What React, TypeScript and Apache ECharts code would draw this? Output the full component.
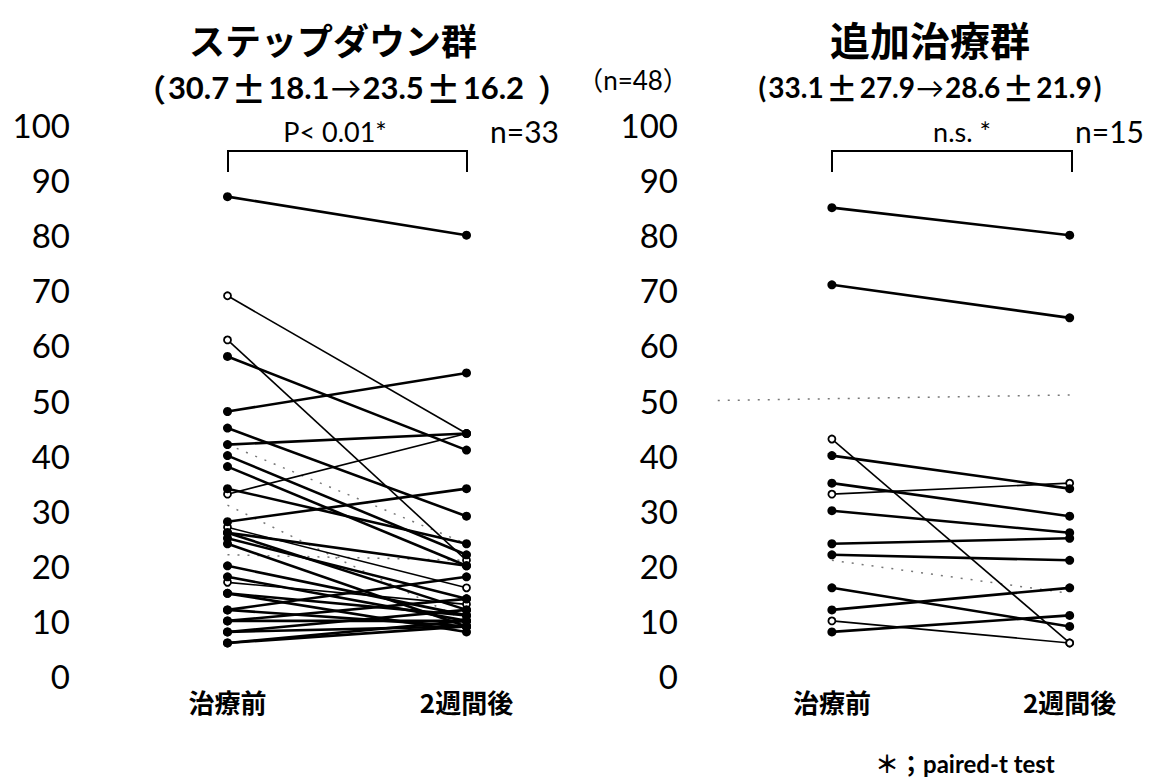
import React, { useEffect, useRef } from "react";
import * as echarts from "echarts";

// ---- data ----
const CATEGORIES = ["治療前", "2週間後"];
const Y_TICKS = [0, 10, 20, 30, 40, 50, 60, 70, 80, 90, 100];

// Step-down group (n=33)
const LEFT_BEFORE = [87, 69, 61, 58, 48, 45, 42, 40, 38, 34, 33, 28, 27, 26, 26, 25, 24, 20, 18, 17, 15, 15, 12, 12, 10, 10, 8, 8, 6, 6];
const LEFT_AFTER = [80, 44, 21, 41, 55, 29, 44, 22, 20, 24, 44, 34, 16, 20, 12, 14, 9, 11, 10, 13, 8, 11, 9, 18, 10, 14, 9, 12, 9, 10];
const LEFT_OPEN = [false, true, true, false, false, false, false, false, false, false, true, false, true, false, false, false, false, false, false, true, false, false, false, false, false, false, false, false, false, false];
const LEFT_DOT_BEFORE = [42, 31, 22];
const LEFT_DOT_AFTER = [24, 10, 21];

// Additional-treatment group (n=15)
const RIGHT_BEFORE = [85, 71, 43, 40, 35, 33, 30, 24, 22, 16, 12, 10, 8];
const RIGHT_AFTER = [80, 65, 6, 34, 29, 35, 26, 25, 21, 9, 16, 6, 11];
const RIGHT_OPEN = [false, false, true, false, false, true, false, false, false, false, false, true, false];
const RIGHT_DOT_BEFORE = [50, 21];
const RIGHT_DOT_AFTER = [51, 15];

const TITLES = ["ステップダウン群", "追加治療群"];
// mean ± SD before → after
const LEFT_STATS = ["30.7", "18.1", "23.5", "16.2"];
const RIGHT_STATS = ["33.1", "27.9", "28.6", "21.9"];
const N_LABELS = ["n=33", "n=15"];
const P_LABELS = ["P< 0.01*", "n.s. *"];
const TOTAL_LABEL = "（n=48）";
const FOOTNOTE = "＊；paired-t test";

const LATIN = "Lato, 'Noto Sans CJK JP', sans-serif";
const CJK = "'Noto Sans CJK JP', sans-serif";

function buildSeries(before: number[], after: number[], open: boolean[], idx: number) {
  return before.map((b, i) => {
    const isOpen = open[i];
    return {
      type: "line",
      xAxisIndex: idx,
      yAxisIndex: idx,
      data: [[0, b], [1, after[i]]],
      symbol: "circle",
      symbolSize: isOpen ? 7 : 9,
      showSymbol: true,
      lineStyle: { color: "#000", width: isOpen ? 1.6 : 2.6 },
      itemStyle: { color: isOpen ? "#fff" : "#000", borderColor: "#000", borderWidth: isOpen ? 1.8 : 0 },
      z: isOpen ? 3 : 4,
      silent: true,
    };
  });
}

function buildDotted(before: number[], after: number[], idx: number, startX: number[]) {
  return before.map((b, i) => ({
    type: "line",
    xAxisIndex: idx,
    yAxisIndex: idx,
    data: [[startX[i], b], [1, after[i]]],
    symbol: "none",
    lineStyle: { color: "#777", width: 1.5, type: [2, 8] },
    z: 2,
    silent: true,
  }));
}

export default function App() {
  const ref = useRef<HTMLDivElement>(null);
  useEffect(() => {
    if (!ref.current) return;
    const chart = echarts.init(ref.current, null, { renderer: "svg" });

    const yAxis = (gridIndex: number, margin: number) => ({
      type: "value",
      gridIndex,
      min: 0,
      max: 100,
      interval: 10,
      axisLine: { show: false },
      axisTick: { show: false },
      splitLine: { show: false },
      axisLabel: {
        margin,
        fontSize: 33,
        color: "#000",
        fontFamily: LATIN,
        customValues: Y_TICKS,
      },
    });
    const xAxis = (gridIndex: number, max: number) => ({
      type: "value",
      gridIndex,
      min: -0.5,
      max,
      axisLine: { show: false },
      axisTick: { show: false },
      splitLine: { show: false },
      axisLabel: {
        customValues: [0, 1],
        margin: 12,
        fontSize: 26,
        fontWeight: "bold",
        color: "#000",
        fontFamily: CJK,
        formatter: (v: number) => CATEGORIES[Math.round(v)] ?? "",
      },
    });

    const series = [
      ...buildDotted(LEFT_DOT_BEFORE, LEFT_DOT_AFTER, 0, [0, 0, 0]),
      ...buildSeries(LEFT_BEFORE, LEFT_AFTER, LEFT_OPEN, 0),
      ...buildDotted(RIGHT_DOT_BEFORE, RIGHT_DOT_AFTER, 1, [-0.48, 0]),
      ...buildSeries(RIGHT_BEFORE, RIGHT_AFTER, RIGHT_OPEN, 1),
    ];

    const bracket = (x1: number, x2: number) => ({
      type: "polyline",
      shape: { points: [[x1, 172], [x1, 151], [x2, 151], [x2, 172]] },
      style: { stroke: "#000", lineWidth: 2, fill: "none" },
    });
    const txt = (text: string, x: number, y: number, size: number, weight: string, family: string, align = "center") => ({
      type: "text",
      x,
      y,
      style: { text, fontSize: size, fontWeight: weight, fontFamily: family, fill: "#000", align, verticalAlign: "middle" },
    });
    const statText = (s: string[], x: number, y: number, size: number, fullWidth: boolean, closeGap: number) => ({
      type: "text",
      x,
      y,
      style: {
        text: `{p|${fullWidth ? "（" : "("}}${s[0]}{pm|±}${s[1]}{ar|→}${s[2]}{pm|±}${s[3]}{pc|${fullWidth ? "）" : ")"}}`,
        fontSize: size,
        fontWeight: "bold",
        fontFamily: LATIN,
        fill: "#000",
        align: "center",
        verticalAlign: "middle",
        rich: {
          p: { fontSize: size, fontWeight: "bold", fontFamily: fullWidth ? CJK : LATIN, fill: "#000", padding: [0, 2, 0, 0] },
          pc: { fontSize: size, fontWeight: "bold", fontFamily: fullWidth ? CJK : LATIN, fill: "#000", padding: [0, 0, 0, closeGap] },
          pm: { fontSize: size + 4, fontWeight: "bold", fontFamily: CJK, fill: "#000", padding: [0, 2] },
          ar: { fontSize: size, fontWeight: "normal", fontFamily: LATIN, fill: "#000", padding: [0, 1] },
        },
      },
    });

    chart.setOption({
      animation: false,
      backgroundColor: "#fff",
      grid: [
        { left: 108, top: 125, width: 478, height: 551 },
        { left: 713, top: 125, width: 428, height: 551 },
      ],
      xAxis: [xAxis(0, 1.5), xAxis(1, 1.3)],
      yAxis: [yAxis(0, 38), yAxis(1, 35)],
      series,
      graphic: [
        txt(TITLES[0], 333, 39, 36, "bold", CJK),
        statText(LEFT_STATS, 352, 87, 31, true, 14),
        txt(TOTAL_LABEL, 633, 80, 26, "normal", LATIN),
        txt(TITLES[1], 930, 39, 40, "bold", CJK),
        statText(RIGHT_STATS, 930, 87, 28, false, 2),
        txt(P_LABELS[0], 335, 131, 27, "normal", LATIN),
        txt(N_LABELS[0], 490, 131, 30, "normal", LATIN, "left"),
        txt(P_LABELS[1], 962, 131, 27, "normal", LATIN),
        txt(N_LABELS[1], 1075, 131, 30, "normal", LATIN, "left"),
        bracket(228, 467),
        bracket(832, 1072),
        txt(FOOTNOTE, 875, 763, 24, "bold", LATIN, "left"),
      ],
    });
    return () => chart.dispose();
  }, []);
  return <div ref={ref} style={{ position: "fixed", left: 0, top: 0, width: 1154, height: 777 }} />;
}
